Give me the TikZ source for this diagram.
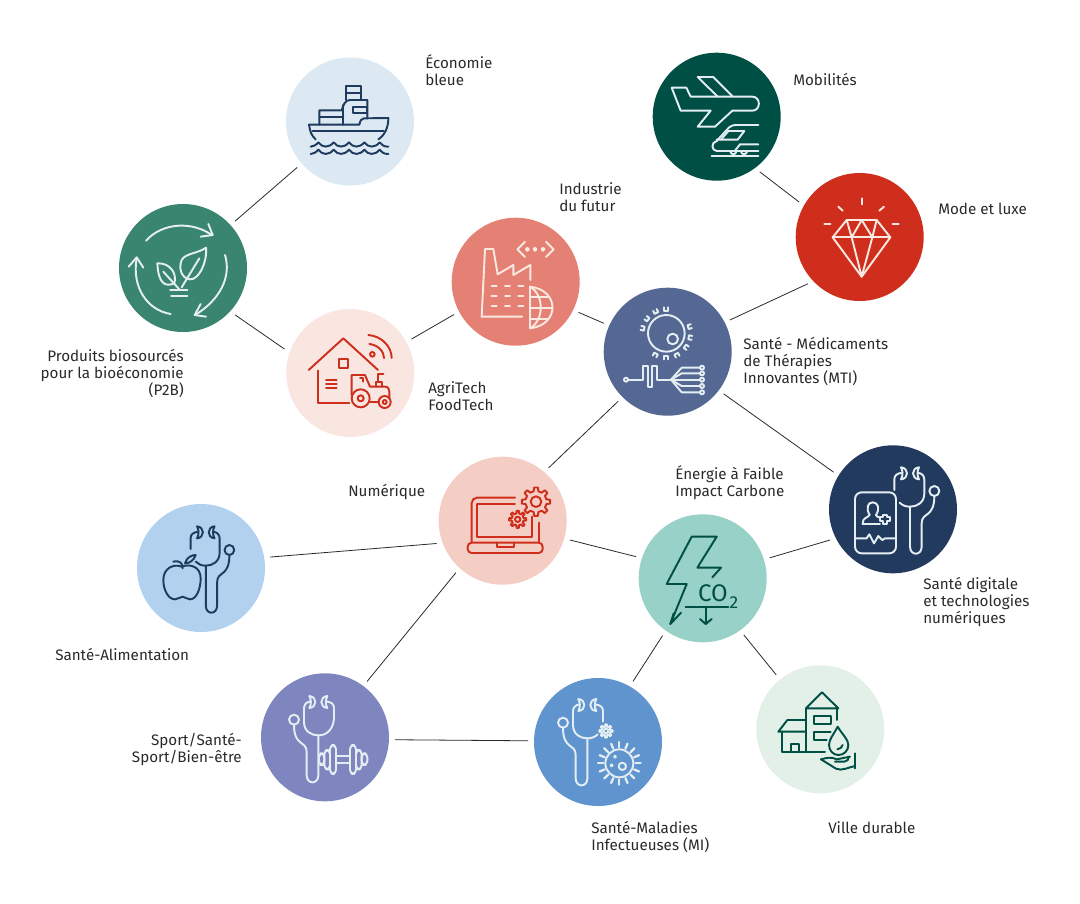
\documentclass[tikz,border=0pt]{standalone}
\usepackage{fontspec}
\setmainfont{Fira Sans}
\definecolor{txt}{HTML}{2A2A2A}
\definecolor{cEco}{HTML}{DCE9F2}
\definecolor{cMob}{HTML}{004F45}
\definecolor{cMode}{HTML}{CF2E1C}
\definecolor{cBio}{HTML}{39856F}
\definecolor{cAgri}{HTML}{FAE6E1}
\definecolor{cInd}{HTML}{E48174}
\definecolor{cMti}{HTML}{546893}
\definecolor{cNum}{HTML}{F4CEC5}
\definecolor{cEne}{HTML}{97D1C7}
\definecolor{cDig}{HTML}{223A5E}
\definecolor{cAli}{HTML}{B2D1EE}
\definecolor{cSpo}{HTML}{7F85BF}
\definecolor{cMal}{HTML}{6094CF}
\definecolor{cVil}{HTML}{E3F0E8}
\definecolor{lite}{HTML}{E4EEF2}
\definecolor{cream}{HTML}{FBE8E0}
\definecolor{navy}{HTML}{1F3A5F}
\tikzset{
  disc/.style={circle,fill=#1,minimum size=96pt,inner sep=0pt,outer sep=4.5pt},
  link/.style={draw=txt,line width=.6pt},
  lab/.style={text=txt,font=\fontsize{11.4}{12.75}\selectfont,inner sep=0pt},
  labl/.style={lab,anchor=west,align=left},
  labr/.style={lab,anchor=east,align=right},
  zm/.style={x=.25pt,y=-.25pt,line width=1.45pt,line join=round,line cap=round},
}
\newcommand{\gearico}[6]{%
  \pgfmathsetmacro\gs{360/#6}%
  \draw[shift={(#1,#2)}] ({-.28*\gs}:#4)
    \foreach \i in {1,...,#6}{ -- ({(\i-1)*\gs-.17*\gs}:#3) -- ({(\i-1)*\gs+.17*\gs}:#3) -- ({(\i-1)*\gs+.28*\gs}:#4) -- ({\i*\gs-.28*\gs}:#4)} -- cycle;
  \draw[shift={(#1,#2)}] (0,0) circle[radius=#5];
}
\newcommand{\stetho}{%
  \draw (228,82) .. controls (252,84) and (252,116) .. (228,118) .. controls (234,108) and (234,92) .. (228,82);
  \draw (282,82) .. controls (258,84) and (258,116) .. (282,118) .. controls (276,108) and (276,92) .. (282,82);
  \draw (232,98) .. controls (216,100) and (208,106) .. (208,118) -- (208,150);
  \draw (278,98) .. controls (292,100) and (298,108) .. (298,120) -- (298,160) .. controls (298,188) and (276,200) .. (255,200) .. controls (242,200) and (232,196) .. (224,188);
  \draw (255,200) -- (255,320) .. controls (255,348) and (290,348) .. (290,320) -- (290,250) .. controls (290,215) and (328,235) .. (328,168);
  \draw (328,153) circle[radius=15];
}
\begin{document}
\begin{tikzpicture}[x=.75pt,y=-.75pt]
\useasboundingbox (0,0) rectangle (1080,903);
% discs
\node[disc=cEco]  (eco)  at (350,121.5) {};
\node[disc=cMob]  (mob)  at (716.7,116.7) {};
\node[disc=cMode] (mode) at (859.7,237) {};
\node[disc=cBio]  (bio)  at (183,268) {};
\node[disc=cAgri] (agri) at (350.3,373) {};
\node[disc=cInd]  (ind)  at (515.7,281.7) {};
\node[disc=cMti]  (mti)  at (667.7,351.7) {};
\node[disc=cNum]  (num)  at (502.7,520.7) {};
\node[disc=cEne]  (ene)  at (702.7,578.3) {};
\node[disc=cDig]  (dig)  at (893,509.3) {};
\node[disc=cAli]  (ali)  at (201,568) {};
\node[disc=cSpo]  (spo)  at (325,737.3) {};
\node[disc=cMal]  (mal)  at (598,742) {};
\node[disc=cVil]  (vil)  at (820.3,729.3) {};
% connectors
\draw[link] (eco.221) -- (bio.42);
\draw[link] (bio.318.5) -- (agri.160.8);
\draw[link] (agri.29) -- (ind.208.7);
\draw[link] (ind.334) -- (mti.156.7);
\draw[link] (mti.27) -- (mode.222.8);
\draw[link] (mob.308.6) -- (mode.150.7);
\draw[link] (mti.323.1) -- (dig.148.8);
\draw[link] (mti.225.4) -- (num.49.3);
\draw[link] (num.199.5) -- (ali.9);
\draw[link] (num.344.2) -- (ene.162.8);
\draw[link] (num.228.2) -- (spo.53.9);
\draw[link] (ene.17) -- (dig.206.3);
\draw[link] (ene.235.5) -- (mal.60.2);
\draw[link] (ene.306.6) -- (vil.129.7);
\draw[link] (spo.358.6) -- (mal.179.6);
% labels
\node[labl] (tEco) at (425,70.5) {Économie\\bleue};
\node[labl] (tMob) at (793,80) {Mobilités};
\node[labl] (tInd) at (559,197.5) {Industrie\\du futur};
\node[labl] (tMode) at (938,209) {Mode et luxe};
\node[labl] (tMti) at (743,362) {Santé - Médicaments\\de Thérapies\\Innovantes (MTI)};
\node[labr] (tBio) at (184,374) {Produits biosourcés\\pour la bioéconomie\\(P2B)};
\node[labl] (tAgri) at (428,396.5) {AgriTech\\FoodTech};
\node[labl] (tNum) at (348,492) {Numérique};
\node[labl] (tEne) at (675,482.5) {Énergie à Faible\\Impact Carbone};
\node[labl] (tDig) at (923,602) {Santé digitale\\et technologies\\numériques};
\node[labl] (tAli) at (55,654) {Santé-Alimentation};
\node[labr] (tSpo) at (242,749.5) {Sport/Santé-\\Sport/Bien-être};
\node[labl] (tMal) at (591,836.5) {Santé-Maladies\\Infectueuses (MI)};
\node[labl] (tVil) at (828,828) {Ville durable};
% ship
\begin{scope}[shift={(280,50)},zm,draw=navy]
\draw (87,224) -- (238,224) .. controls (240,212) and (245,205) .. (252,205) -- (325,204) .. controls (325,232) and (315,255) .. (295,268);
\draw (87,224) .. controls (90,245) and (95,258) .. (107,268);
\draw (98,243) -- (312,243);
\draw (118,224) -- (118,181) -- (185,181) .. controls (190,165) and (195,150) .. (210,150) -- (262,150) -- (262,205);
\draw (118,200) -- (190,200);
\draw (190,165) -- (190,224);
\draw (218,170) -- (262,170) -- (262,190) -- (218,190) -- cycle;
\draw (198,150) -- (198,108) -- (243,108) -- (243,150);
\draw (198,128) -- (243,128);
\foreach \yy in {0,22}{
  \draw (92,290+\yy) .. controls (100,290+\yy) and (108,285+\yy) .. (115,277+\yy)
    \foreach \p in {115,161,207,253}{ .. controls (\p+12,294+\yy) and (\p+32,294+\yy) .. (\p+46,277+\yy)}
    .. controls (304,285+\yy) and (312,290+\yy) .. (325,290+\yy);
}
\end{scope}
% plane + train, diamond
\begin{scope}[shift={(645,45)},zm,draw=lite]
\draw (80,128) -- (124,128) -- (137,155) -- (322,155) .. controls (348,155) and (348,197) .. (322,197) -- (262,197) -- (210,245) -- (158,245) -- (197,197) -- (107,197) -- cycle;
\draw (218,155) -- (158,96) -- (205,96) -- (262,153);
\draw (340,240) -- (275,240) .. controls (262,240) and (255,243) .. (245,255) -- (215,288) .. controls (198,292) and (198,316) .. (215,318) -- (340,318);
\draw (250,258) -- (298,258) -- (278,284) -- (215,284);
\draw (250,258) -- (228,284);
\draw (270,317) -- (285,298) -- (340,298);
\draw (200,332) -- (340,332);
\draw (256,320) .. controls (258,330) and (272,330) .. (274,320);
\draw (288,320) .. controls (290,330) and (304,330) .. (306,320);
\end{scope}
\begin{scope}[shift={(645,45)},zm,draw=cream]
\draw (563,577) -- (605,525) -- (695,525) -- (736,577) -- (650,695) -- cycle;
\draw (563,577) -- (736,577);
\draw (605,525) -- (620,577) -- (650,525) -- (682,577) -- (695,525);
\draw (620,577) -- (650,695) -- (682,577);
\draw (650,460) -- (650,478);
\draw (580,485) -- (593,497);
\draw (717,485) -- (703,497);
\draw (538,537) -- (556,537);
\draw (743,537) -- (761,537);
\end{scope}
% bio
\begin{scope}[shift={(110,200)},zm,draw=lite]
\draw (108,122) .. controls (160,65) and (250,65) .. (305,105);
\draw (295,72) -- (308,105) -- (272,110);
\draw (345,165) .. controls (365,230) and (330,300) .. (255,345);
\draw (288,350) -- (254,345) -- (272,312);
\draw (182,342) .. controls (110,330) and (65,260) .. (80,175);
\draw (56,200) -- (80,172) -- (100,203);
\draw (288,143) .. controls (292,190) and (265,240) .. (240,238) .. controls (214,235) and (205,205) .. (215,180) .. controls (225,160) and (265,160) .. (288,143);
\draw (268,175) -- (215,262);
\draw (142,190) .. controls (180,188) and (202,220) .. (193,250) .. controls (165,262) and (145,250) .. (142,190);
\draw (160,215) -- (208,268);
\draw (180,270) -- (232,270);
\draw (183,288) -- (232,288);
\end{scope}
% agri
\begin{scope}[shift={(110,200)},zm,draw=cMode]
\draw (596,510) -- (700,415) -- (804,510);
\draw (623,512) -- (623,610) -- (718,610);
\draw (686,476) rectangle (715,505);
\draw (648,540) -- (680,540);
\draw (648,551) -- (680,551);
\draw (648,563) -- (680,563);
\draw (787,463) circle[radius=7];
\draw (778,432) .. controls (805,435) and (822,455) .. (822,474);
\draw (775,405) .. controls (815,408) and (845,440) .. (845,474);
\draw (725,585) -- (725,525) -- (765,525) -- (780,560) -- (825,560) .. controls (835,560) and (838,568) .. (838,575) -- (838,595);
\draw (752,595) circle[radius=27];
\draw (752,595) circle[radius=9];
\draw (824,606) circle[radius=18];
\draw (824,606) circle[radius=6];
\draw (780,605) -- (806,605);
\draw (750,535) -- (760,535) -- (760,545);
\draw (797,560) -- (797,545) -- (815,545) -- (815,560);
\draw (805,545) -- (805,522) -- (820,522);
\end{scope}
% factory + globe
\begin{scope}[shift={(445,215)},zm,draw=cream]
\draw (232,305) -- (110,305) -- (120,102) -- (145,102) -- (158,178) -- (205,150) -- (205,180) -- (256,150) -- (256,195);
\foreach \yy in {214,243,272}{\foreach \xx in {140,180,220}{\draw (\xx,\yy) -- (\xx+15,\yy);}}
\draw (240,80) -- (217,103) -- (240,126);
\draw (303,80) -- (326,103) -- (303,126);
\draw (247,103) circle[radius=4.5];
\draw (270,103) circle[radius=4.5];
\draw (294,103) circle[radius=4.5];
\draw (255,340) -- (255,215) .. controls (345,225) and (345,330) .. (255,340);
\draw (255,215) .. controls (298,240) and (298,315) .. (255,340);
\draw (255,245) -- (308,245);
\draw (255,278) -- (322,278);
\draw (255,312) -- (308,312);
\end{scope}
% MTI
\begin{scope}[shift={(445,215)},zm,draw=lite]
\draw (664,355) circle[radius=55];
\draw (683,372) circle[radius=16];
\foreach \a in {90,116,143,168,16,-10,-35,-64,-90,-117}{
  \begin{scope}[shift={(664,355)},rotate=\a]
  \draw (78,-6) -- (68,-6) -- (68,6) -- (78,6);
  \end{scope}}
\draw (543,494) circle[radius=6];
\draw (549,494) -- (594,494) -- (594,452) -- (608,452) -- (608,516) -- (620,516) -- (620,452) -- (636,452) -- (636,494) -- (678,494);
\draw (678,494) -- (710,458) -- (765,458);
\draw (678,494) -- (710,475) -- (765,475);
\draw (678,494) -- (765,494);
\draw (678,494) -- (710,513) -- (765,513);
\draw (678,494) -- (710,532) -- (765,532);
\foreach \yy in {458,475,494,513,532}{\draw (771,\yy) circle[radius=6];}
\end{scope}
% laptop
\begin{scope}[shift={(435,450)},zm,draw=cMode]
\draw[rounded corners=4pt] (240,143) -- (110,143) -- (110,275);
\draw (240,163) -- (127,163) -- (127,260) -- (292,260) -- (292,200);
\draw (312,218) -- (312,275);
\draw[rounded corners=3pt] (98,278) rectangle (323,309);
\draw (185,278) -- (185,290) -- (237,290) -- (237,278);
\gearico{303}{155}{43}{32}{16}{8}
\gearico{248}{208}{26}{18}{8}{8}
\end{scope}
% energy
\begin{scope}[shift={(435,450)},zm,draw=cMob]
\draw (832,382) -- (858,353) -- (787,353) -- (845,260) -- (770,260) -- (695,402) -- (755,402) -- (706,522) -- (738,488);
\draw (706,522) -- (716,490);
\draw (752,472) -- (880,472);
\draw (812,472) -- (812,522);
\draw (795,507) -- (812,522) -- (830,507);
\node[text=cMob,font=\fontsize{18}{18}\selectfont,inner sep=0pt] (co) at (834,430) {CO};
\node[text=cMob,font=\fontsize{13}{13}\selectfont,inner sep=0pt] (two) at (897,457) {2};
\end{scope}
% digital
\begin{scope}[shift={(825,440)},zm,draw=lite]
\draw[rounded corners=5pt] (90,157) rectangle (213,340);
\draw (113,252) .. controls (112,232) and (128,234) .. (134,225) .. controls (122,205) and (128,187) .. (143,187) .. controls (160,187) and (165,207) .. (153,225) .. controls (155,230) and (158,231) .. (163,232);
\draw (113,252) -- (165,252);
\draw (174,225) -- (186,225) -- (186,232) -- (195,232) -- (195,244) -- (186,244) -- (186,251) -- (174,251) -- (174,244) -- (166,244) -- (166,232) -- (174,232) -- cycle;
\draw (90,295) -- (125,295) -- (133,283) -- (147,310) -- (160,288) -- (172,300) -- (180,295) -- (213,295);
\stetho
\end{scope}
% alimentation
\begin{scope}[shift={(130,500)},zm,draw=navy]
\draw (155,200) .. controls (130,190) and (100,205) .. (100,240) .. controls (100,270) and (115,298) .. (135,298) .. controls (145,298) and (150,290) .. (158,290) .. controls (165,290) and (170,298) .. (180,298) .. controls (200,298) and (212,265) .. (212,235) .. controls (212,200) and (180,190) .. (155,200);
\draw (130,185) .. controls (150,180) and (158,190) .. (158,205);
\draw (165,190) .. controls (170,172) and (185,165) .. (197,165) .. controls (192,180) and (180,190) .. (165,190);
\begin{scope}[shift={(-20,-3)},xscale=.97]
\stetho
\end{scope}
\end{scope}
% sport
\begin{scope}[shift={(255,670)},zm,draw=lite]
\begin{scope}[shift={(445,-4)},xscale=-1]
\stetho
\draw (208,150) .. controls (210,170) and (216,180) .. (224,188);
\end{scope}
\draw[rounded corners=3pt] (225,225) rectangle (243,312);
\draw[rounded corners=3pt] (208,240) rectangle (225,298);
\draw[rounded corners=3pt] (192,250) rectangle (208,285);
\draw[rounded corners=3pt] (285,225) rectangle (303,312);
\draw[rounded corners=3pt] (303,240) rectangle (320,298);
\draw[rounded corners=3pt] (320,250) rectangle (337,285);
\draw (243,258) -- (285,258);
\draw (243,278) -- (285,278);
\end{scope}
% maladies
\begin{scope}[shift={(530,670)},zm,draw=lite]
\begin{scope}[shift={(427,5)},xscale=-1]
\stetho
\end{scope}
\gearico{228}{183}{20}{13}{7}{8}
\draw (268,280) circle[radius=42];
\foreach \a in {0,22.5,...,337.5}{\draw[shift={(268,280)},line width=1.7pt] (\a:48) -- (\a:64);}
\draw (255,260) circle[radius=3];
\draw (245,286) circle[radius=3];
\draw (277,289) circle[radius=11];
\end{scope}
% ville
\begin{scope}[shift={(750,660)},zm,draw=cMob]
\draw (168,272) -- (168,145) -- (216,97) -- (265,145) -- (168,145);
\draw (262,145) -- (262,180);
\draw (168,215) -- (85,215) -- (112,180) -- (168,180);
\draw (97,215) -- (97,275) -- (225,275);
\draw (122,275) -- (122,252) -- (146,252) -- (146,275);
\draw (193,168) rectangle (242,193);
\draw (242,215) -- (193,215) -- (193,240) -- (230,240);
\draw (263,200) .. controls (250,225) and (237,238) .. (237,255) .. controls (237,272) and (250,285) .. (265,285) .. controls (282,285) and (295,272) .. (295,255) .. controls (295,238) and (278,225) .. (263,200);
\draw (262,268) .. controls (270,267) and (276,262) .. (278,255);
\draw (213,298) .. controls (230,293) and (245,290) .. (260,298) -- (300,290);
\draw (213,298) -- (258,326) .. controls (275,334) and (295,322) .. (315,318);
\draw (255,305) -- (283,305) .. controls (292,304) and (296,298) .. (296,292);
\draw (315,280) -- (315,325);
\end{scope}
\end{tikzpicture}
\end{document}
